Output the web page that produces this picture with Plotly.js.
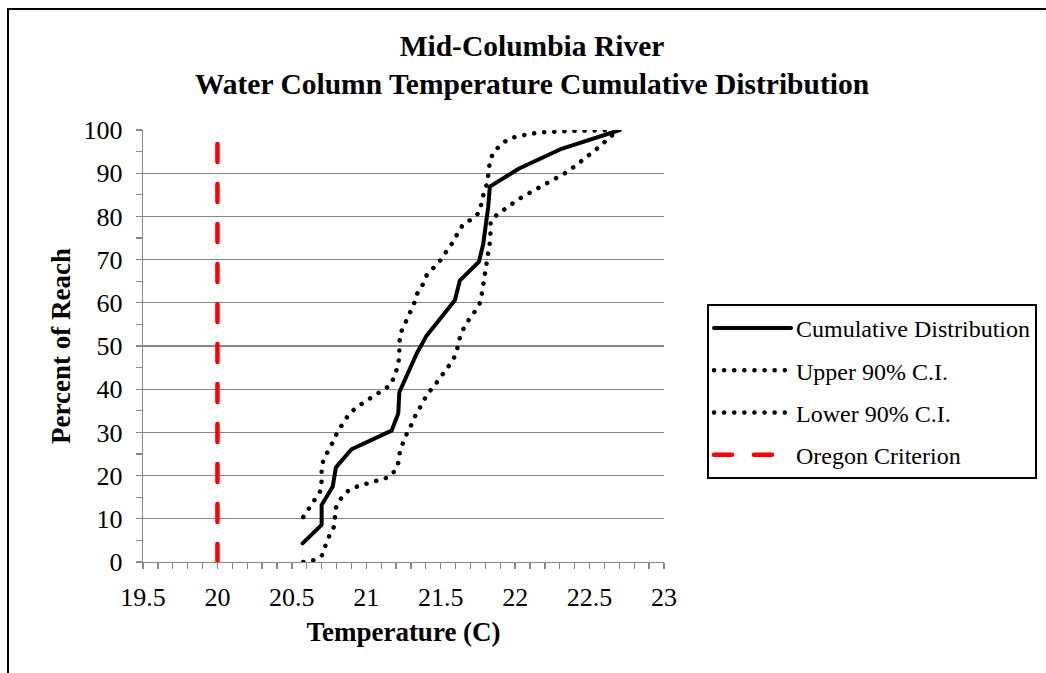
<!DOCTYPE html>
<html>
<head>
<meta charset="utf-8">
<script src="https://cdn.plot.ly/plotly-3.0.1.min.js"></script>
<style>
  html, body { margin: 0; padding: 0; background: #fff; }
  #wrap { position: relative; width: 1046px; height: 673px; overflow: hidden; }
  #chart { position: absolute; left: 0; top: 0; width: 1046px; height: 673px; }
  #frame { position: absolute; left: 7px; top: 8px; width: 1200px; height: 800px;
           border-left: 2px solid #000; border-top: 2px solid #000; pointer-events: none; }
  .js-line { stroke-linecap: round !important; stroke-linejoin: round !important; }
</style>
</head>
<body>
<div id="wrap">
  <div id="chart"></div>
  <div id="frame"></div>
</div>
<script>
// Cumulative distribution (solid)
const cumTemp = [20.572, 20.700, 20.700, 20.774, 20.796, 20.901, 21.170, 21.215, 21.222, 21.338, 21.405, 21.595, 21.629, 21.757, 21.786, 21.819, 21.830, 22.027, 22.301, 22.703];
const cumPct  = [4.3, 8.6, 13.2, 17.4, 21.9, 26.1, 30.4, 34.4, 39.3, 48.2, 52.4, 60.6, 65.2, 69.5, 73.7, 82.2, 86.9, 91.1, 95.5, 100];

// Upper 90% C.I. (dotted, left)
const upTemp = [20.577, 20.617, 20.655, 20.693, 20.700, 20.700, 20.711, 20.747, 20.778, 20.805, 20.841, 20.881, 20.934, 20.993, 21.051, 21.109, 21.165, 21.192, 21.215, 21.222, 21.222, 21.231, 21.260, 21.293, 21.320, 21.338, 21.379, 21.405, 21.455, 21.502, 21.540, 21.580, 21.613, 21.647, 21.708, 21.759, 21.775, 21.790, 21.813, 21.819, 21.830, 21.853, 21.909, 21.965, 22.027, 22.099, 22.166, 22.244, 22.390, 22.659];
const upPct  = [10.4, 12.4, 14.3, 16.5, 18.8, 21.3, 23.6, 25.8, 27.9, 30.0, 32.1, 34.1, 35.8, 37.1, 38.4, 39.8, 41.0, 43.4, 45.6, 48.2, 50.7, 53.0, 55.3, 57.5, 59.7, 61.9, 64.2, 66.3, 68.1, 70.0, 72.0, 73.9, 76.0, 78.0, 79.4, 80.9, 83.2, 85.5, 87.8, 90.1, 92.7, 94.8, 96.8, 98.1, 98.6, 99.1, 99.4, 99.6, 99.8, 100];

// Lower 90% C.I. (dotted, right)
const loTemp = [20.577, 20.644, 20.700, 20.745, 20.782, 20.789, 20.796, 20.830, 20.879, 20.940, 21.009, 21.081, 21.148, 21.193, 21.220, 21.226, 21.249, 21.278, 21.311, 21.338, 21.379, 21.405, 21.455, 21.495, 21.540, 21.580, 21.607, 21.619, 21.641, 21.675, 21.720, 21.760, 21.775, 21.786, 21.797, 21.813, 21.819, 21.830, 21.835, 21.835, 21.875, 21.931, 21.987, 22.048, 22.110, 22.173, 22.233, 22.296, 22.350, 22.412, 22.468, 22.524, 22.580, 22.632, 22.681, 22.700];
const loPct  = [0, 0.4, 1.4, 5.6, 8.1, 10.3, 12.6, 14.7, 16.5, 17.5, 18.2, 19.0, 19.6, 21.1, 23.4, 25.8, 27.9, 30.2, 32.3, 34.6, 36.7, 38.7, 40.7, 42.6, 44.7, 46.6, 48.6, 50.9, 53.2, 55.4, 57.5, 59.6, 61.9, 64.2, 66.6, 68.9, 71.4, 73.9, 76.4, 78.7, 80.3, 81.8, 83.1, 84.5, 85.7, 86.9, 87.9, 89.0, 90.3, 91.9, 93.4, 95.0, 96.5, 98.3, 99.6, 100];

// Oregon criterion (vertical)
const critTemp = [20, 20];
const critPct  = [0, 100];

const xTickVals = [19.5, 20, 20.5, 21, 21.5, 22, 22.5, 23];
const xTickText = ['19.5', '20', '20.5', '21', '21.5', '22', '22.5', '23'];
const yTickVals = [0, 10, 20, 30, 40, 50, 60, 70, 80, 90, 100];

const FONT = '"Liberation Serif", "Times New Roman", serif';
const GRID = '#888888';

const traces = [
  { x: cumTemp, y: cumPct, name: 'Cumulative Distribution', mode: 'lines', legendgroup: 'a',
    line: { color: '#000', width: 4 } },
  { x: upTemp, y: upPct, name: 'Upper 90% C.I.', mode: 'lines', legendgroup: 'b',
    line: { color: '#000', width: 4.5, dash: '0.1px,10px' } },
  { x: loTemp, y: loPct, name: 'Lower 90% C.I.', mode: 'lines', legendgroup: 'c',
    line: { color: '#000', width: 4.5, dash: '0.1px,10px' } },
  { x: critTemp, y: critPct, name: 'Oregon Criterion', mode: 'lines', legendgroup: 'd',
    line: { color: '#ff0000', width: 4.5, dash: '18px,22px' } }
];

const layout = {
  width: 1046, height: 673,
  margin: { l: 143, r: 382, t: 130, b: 111, pad: 0 },
  paper_bgcolor: '#fff', plot_bgcolor: '#fff',
  font: { family: FONT, color: '#000', size: 25 },
  title: {
    text: '<b>Mid-Columbia River</b><br><b>Water Column Temperature Cumulative Distribution</b>',
    font: { family: FONT, size: 29.5, color: '#000' },
    xref: 'container', x: 532 / 1046, xanchor: 'center',
    yref: 'container', y: 1 - 56 / 673, yanchor: 'middle'
  },
  xaxis: {
    range: [19.5, 23], tickmode: 'array', tickvals: xTickVals, ticktext: xTickText,
    showgrid: false, zeroline: false,
    showline: true, linecolor: GRID, linewidth: 1.3,
    ticks: 'outside', ticklen: 6, tickwidth: 1.3, tickcolor: GRID,
    minor: { dtick: 0.1, ticks: 'outside', ticklen: 6, tickwidth: 1.3, tickcolor: GRID, showgrid: false },
    tickfont: { family: FONT, size: 26, color: '#000' },
    ticklabelstandoff: 5,
    title: { text: '<b>Temperature (C)</b>', font: { family: FONT, size: 27, color: '#000' }, standoff: 11 },
    fixedrange: true
  },
  yaxis: {
    range: [0, 100], tickmode: 'array', tickvals: yTickVals,
    showgrid: true, gridcolor: GRID, gridwidth: 1.3, zeroline: false,
    showline: true, linecolor: GRID, linewidth: 1.3,
    ticks: 'outside', ticklen: 6, tickwidth: 1.3, tickcolor: GRID,
    minor: { dtick: 5, ticks: 'outside', ticklen: 6, tickwidth: 1.3, tickcolor: GRID, showgrid: false },
    tickfont: { family: FONT, size: 26, color: '#000' },
    ticklabelstandoff: 8,
    title: { text: '<b>Percent of Reach</b>', font: { family: FONT, size: 27, color: '#000' }, standoff: 5 },
    fixedrange: true
  },
  showlegend: true,
  legend: {
    x: 707 / 1046, xref: 'container', xanchor: 'left',
    y: 1 - 304 / 673, yref: 'container', yanchor: 'top',
    bgcolor: '#fff', bordercolor: '#000', borderwidth: 2,
    font: { family: FONT, size: 24, color: '#000' },
    traceorder: 'grouped', tracegroupgap: 8,
    itemwidth: 77
  }
};

Plotly.newPlot('chart', traces, layout, { staticPlot: true, displayModeBar: false });
</script>
</body>
</html>
